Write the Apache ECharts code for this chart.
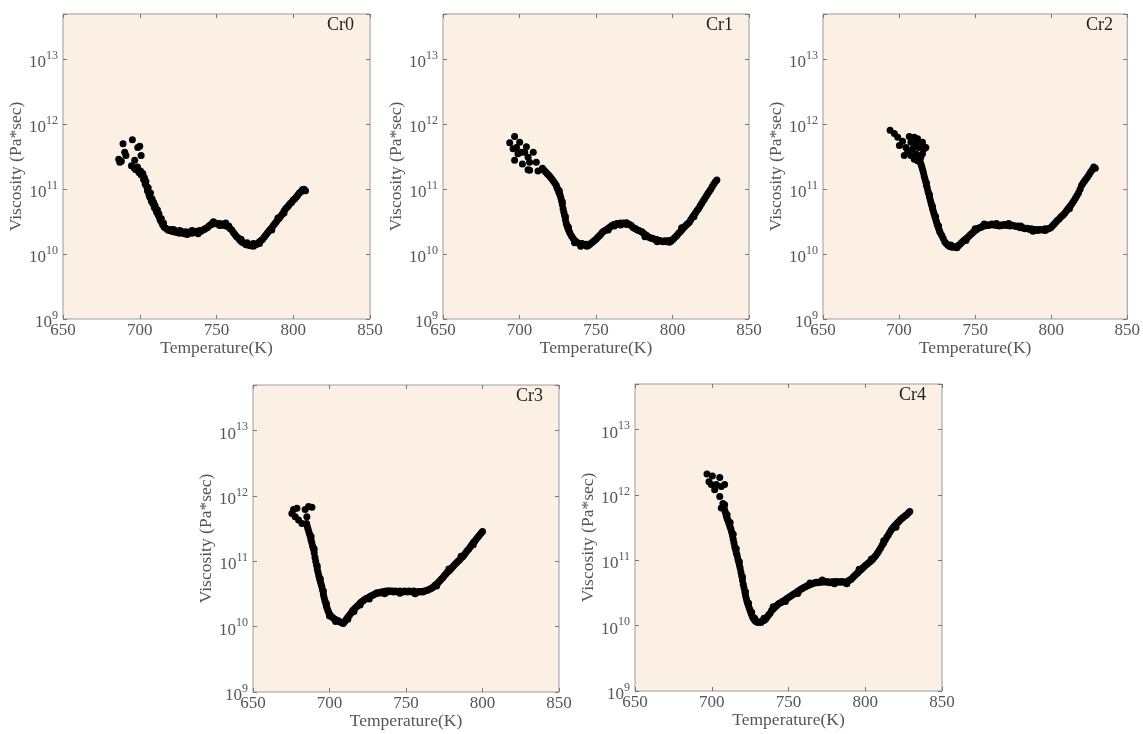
<!DOCTYPE html>
<html>
<head>
<meta charset="utf-8">
<title>Viscosity vs temperature</title>
<script src="https://cdn.jsdelivr.net/npm/echarts@6/dist/echarts.min.js"></script>
<style>
  html, body { margin: 0; padding: 0; background: #fff; }
  #main { width: 1143px; height: 734px; }
</style>
</head>
<body>
<div id="main"></div>
<script>
// panel names
var panelNames = ['Cr0', 'Cr1', 'Cr2', 'Cr3', 'Cr4'];
// x ticks (K)
var tempTicks = [650, 700, 750, 800, 850];
// y range (Pa*sec)
var viscRange = [1e9, 5e13];

// [temperature K, viscosity Pa*sec]
var cr0 = [
  [686.3,2.9e11],[687,2.6e11],[688,2.7e11],[689.1,5.0e11],[690.2,3.7e11],[691,3.3e11],[694.6,2.3e11],
  [695.2,5.8e11],[696.7,2.8e11],[698.7,4.4e11],[700,4.6e11],[700.9,3.3e11],
  [696.5,2.1e11],[697.5,2.0e11],[698.5,2.2e11],[699.5,1.8e11],[700.5,1.9e11],[701,1.66e11],[702,1.74e11],
  [702.5,1.41e11],[703,1.51e11],[703.5,1.2e11],[704,1.32e11],[704.5,1.1e11],[705,9.5e10],[705.5,1.05e11],
  [706,8.3e10],[706.5,7.6e10],[707,8.7e10],[707.5,6.6e10],[708,7.1e10],[708.5,6.0e10],[709,6.3e10],
  [709.5,5.2e10],[710,5.6e10],[710.5,4.8e10],[711,4.4e10],[711.5,4.8e10],[712,4.0e10],[712.5,4.2e10],
  [713,3.55e10],[713.5,3.3e10],[714,3.55e10],[714.5,3.0e10],[715,2.8e10],[715.5,3.0e10],[716,2.6e10],
  [717,2.5e10],[718,2.4e10],[719,2.3e10],[720,2.4e10],[721,2.25e10],[722,2.2e10],[723,2.3e10],[724,2.15e10],
  [725,2.25e10],[726,2.1e10],[727,2.25e10],[728,2.15e10],[729,2.05e10],[730,2.2e10],[731,2.0e10],[732,2.15e10],
  [733,2.2e10],[734,2.1e10],[735,2.25e10],[736,2.15e10],[737,2.25e10],[738,2.2e10],[739,2.3e10],[740,2.25e10],
  [741,2.35e10],[742,2.4e10],[743,2.5e10],[744,2.55e10],[745,2.7e10],[746,2.8e10],[747,2.95e10],[748,2.9e10],
  [749,3.0e10],[750,2.95e10],[751,2.9e10],[752,2.95e10],[753,2.8e10],[754,2.9e10],[755,2.75e10],[756,2.8e10],
  [757,2.65e10],[758,2.7e10],[759,2.45e10],[760,2.35e10],[761,2.15e10],[762,2.0e10],[763,1.86e10],[764,1.78e10],
  [765,1.66e10],[766,1.58e10],[767,1.51e10],[768,1.48e10],[769,1.41e10],[770,1.38e10],[771,1.41e10],[772,1.35e10],
  [773,1.38e10],[774,1.32e10],[775,1.38e10],[776,1.41e10],[777,1.48e10],[778,1.55e10],[779,1.62e10],[780,1.7e10],
  [781,1.82e10],[782,1.95e10],[783,2.1e10],[784,2.25e10],[785,2.4e10],[786,2.55e10],[787,2.75e10],[788,2.95e10],
  [789,3.15e10],[790,3.4e10],[791,3.6e10],[792,3.9e10],[793,4.2e10],[794,4.6e10],[795,5.0e10],[796,5.25e10],
  [797,5.6e10],[798,6.0e10],[799,6.3e10],[800,6.8e10],[801,7.1e10],[802,7.6e10],[803,8.1e10],[804,8.7e10],
  [805,9.1e10],[806,9.8e10],[807,1.0e11],[808,9.5e10],
  [722,2.4e10],[726,2.3e10],[730,2.05e10],[734,2.3e10],[738,2.05e10],[748,3.15e10],[752,2.75e10],[756,3.0e10],
  [766,1.7e10],[770,1.5e10],[774,1.45e10],[778,1.45e10],[786,2.35e10],[790,3.6e10],[794,4.3e10]
];

var cr1 = [
  [693.6,5.2e11],[696.8,6.5e11],[695.8,4.2e11],[698,4.4e11],[700.1,5.3e11],[696.8,2.8e11],[699,3.5e11],
  [701.2,3.7e11],[701.9,2.45e11],[704.5,4.5e11],[705.6,3.1e11],[706.6,2.6e11],[705.6,2.0e11],[709,3.7e11],
  [711,2.6e11],[712.1,1.9e11],[706.6,1.95e11],[703.4,3.7e11],
  [715,2.1e11],[716,1.95e11],[717,1.85e11],[718,1.75e11],[719,1.65e11],[720,1.55e11],[721,1.45e11],
  [722,1.35e11],[723,1.25e11],[724,1.15e11],[724.5,1.05e11],[725,1.0e11],[725.5,9.3e10],[726,8.7e10],
  [726.5,8.1e10],[727,7.4e10],[727.5,6.6e10],[728,5.8e10],[728.5,5.0e10],[729,4.4e10],[729.5,3.9e10],
  [730,3.4e10],[730.5,3.0e10],[731,2.75e10],[731.5,2.55e10],[732,2.4e10],[732.5,2.25e10],[733,2.1e10],
  [734,1.9e10],[735,1.75e10],[736,1.62e10],[737,1.55e10],[738,1.5e10],[739,1.45e10],[740,1.42e10],
  [741,1.45e10],[742,1.4e10],[743,1.38e10],[744,1.42e10],[745,1.36e10],[746,1.42e10],[747,1.48e10],
  [748,1.55e10],[749,1.62e10],[750,1.7e10],[751,1.8e10],[752,1.9e10],[753,2.0e10],[754,2.15e10],[755,2.25e10],
  [756,2.3e10],[757,2.4e10],[758,2.5e10],[759,2.6e10],[760,2.7e10],[761,2.8e10],[762,2.85e10],[763,2.9e10],
  [764,2.95e10],[765,2.9e10],[766,3.0e10],[767,2.9e10],[768,3.0e10],[769,2.95e10],[770,3.05e10],[771,2.9e10],
  [772,2.85e10],[773,2.75e10],[774,2.6e10],[775,2.5e10],[776,2.45e10],[777,2.35e10],[778,2.3e10],[779,2.25e10],
  [780,2.2e10],[781,2.1e10],[782,2.0e10],[783,1.95e10],[784,1.85e10],[785,1.8e10],[786,1.75e10],[787,1.75e10],
  [788,1.7e10],[789,1.68e10],[790,1.66e10],[791,1.62e10],[792,1.6e10],[793,1.58e10],[794,1.55e10],[795,1.6e10],
  [796,1.55e10],[797,1.6e10],[798,1.62e10],[799,1.58e10],[800,1.66e10],[801,1.75e10],[802,1.85e10],[803,1.95e10],
  [804,2.1e10],[805,2.2e10],[806,2.35e10],[807,2.5e10],[808,2.65e10],[809,2.8e10],[810,2.95e10],[811,3.1e10],
  [812,3.4e10],[813,3.7e10],[814,4.0e10],[815,4.3e10],[816,4.7e10],[817,5.0e10],[818,5.5e10],[819,6.0e10],
  [820,6.6e10],[821,7.1e10],[822,7.8e10],[823,8.5e10],[824,9.2e10],[825,1.0e11],[826,1.1e11],[827,1.2e11],
  [828,1.3e11],[829,1.38e11],
  [726,9.5e10],[728,6.4e10],[730,3.8e10],[732,2.6e10],[736,1.5e10],[740,1.32e10],[744,1.32e10],[758,2.35e10],
  [762,2.7e10],[766,2.8e10],[770,2.85e10],[782,1.85e10],[790,1.55e10],[798,1.52e10],[806,2.55e10],[814,3.75e10]
];

var cr2 = [
  [694.1,8.1e11],[696.9,7.2e11],[699.1,6.3e11],[700.2,4.7e11],[702.3,5.5e11],[704.5,4.4e11],[703.4,3.3e11],
  [706.7,6.5e11],[707.8,5.3e11],[708.9,4.2e11],[705.6,3.7e11],[710,6.3e11],[711.1,5.0e11],[712.2,6.0e11],
  [713.2,4.4e11],[715.4,5.3e11],[716.5,4.2e11],[717.6,4.4e11],[715.4,3.5e11],[714.3,3.1e11],[711.1,3.5e11],
  [710,2.9e11],[712.2,2.75e11],[707.8,3.3e11],
  [714,2.6e11],[714.5,2.4e11],[715,2.2e11],[715.5,2.0e11],[716,1.8e11],[716.5,1.6e11],[717,1.45e11],
  [717.5,1.3e11],[718,1.15e11],[718.5,1.05e11],[719,9.3e10],[719.5,8.5e10],[720,7.6e10],[720.5,6.9e10],
  [721,6.2e10],[721.5,5.6e10],[722,5.0e10],[722.5,4.6e10],[723,4.2e10],[723.5,3.8e10],[724,3.5e10],
  [724.5,3.2e10],[725,2.9e10],[725.5,2.7e10],[726,2.5e10],[726.5,2.3e10],[727,2.15e10],[728,1.95e10],
  [729,1.75e10],[730,1.55e10],[731,1.45e10],[732,1.38e10],[733,1.32e10],[734,1.3e10],[735,1.28e10],
  [736,1.3e10],[737,1.27e10],[738,1.32e10],[739,1.35e10],[740,1.42e10],[741,1.5e10],[742,1.58e10],
  [743,1.65e10],[744,1.72e10],[745,1.8e10],[746,1.9e10],[747,2.0e10],[748,2.1e10],[749,2.2e10],[750,2.3e10],
  [751,2.4e10],[752,2.5e10],[753,2.55e10],[754,2.6e10],[755,2.7e10],[756,2.7e10],[757,2.75e10],[758,2.8e10],
  [759,2.75e10],[760,2.85e10],[761,2.9e10],[762,2.8e10],[763,2.85e10],[764,2.75e10],[765,2.8e10],[766,2.7e10],
  [767,2.8e10],[768,2.75e10],[769,2.85e10],[770,2.8e10],[771,2.75e10],[772,2.8e10],[773,2.7e10],[774,2.8e10],
  [775,2.75e10],[776,2.7e10],[777,2.65e10],[778,2.7e10],[779,2.6e10],[780,2.55e10],[781,2.6e10],[782,2.5e10],
  [783,2.45e10],[784,2.5e10],[785,2.45e10],[786,2.4e10],[787,2.45e10],[788,2.4e10],[789,2.35e10],[790,2.4e10],
  [791,2.3e10],[792,2.4e10],[793,2.35e10],[794,2.4e10],[795,2.35e10],[796,2.45e10],[797,2.4e10],[798,2.45e10],
  [799,2.5e10],[800,2.6e10],[801,2.75e10],[802,2.9e10],[803,3.1e10],[804,3.3e10],[805,3.45e10],[806,3.65e10],
  [807,3.85e10],[808,4.05e10],[809,4.3e10],[810,4.6e10],[811,5.0e10],[812,5.3e10],[813,5.7e10],[814,6.2e10],
  [815,6.7e10],[816,7.3e10],[817,8.0e10],[818,8.8e10],[819,1.0e11],[820,1.15e11],[821,1.25e11],[822,1.35e11],
  [823,1.45e11],[824,1.55e11],[825,1.7e11],[826,1.85e11],[827,2.0e11],[828,2.2e11],[829,2.1e11],
  [718,1.25e11],[720,8.2e10],[722,5.4e10],[724,3.8e10],[726,2.7e10],[734,1.38e10],[738,1.25e10],[744,1.62e10],
  [750,2.45e10],[756,2.9e10],[764,2.95e10],[772,2.95e10],[780,2.7e10],[788,2.25e10],[796,2.3e10],[812,5.0e10]
];

var cr3 = [
  [676.5,6.2e11],[675.4,5.4e11],[678.7,6.5e11],[677.6,4.8e11],[679.8,4.3e11],[684.1,6.2e11],[686.3,6.9e11],
  [688.5,6.7e11],[685.2,4.8e11],[682,3.8e11],
  [685,3.8e11],[685.5,3.4e11],[686,3.1e11],[686.5,2.8e11],[687,2.6e11],[687.5,2.35e11],[688,2.1e11],
  [688.5,1.9e11],[689,1.7e11],[689.5,1.55e11],[690,1.35e11],[690.5,1.15e11],[691,1.0e11],[691.5,8.8e10],
  [692,7.6e10],[692.5,6.8e10],[693,6.0e10],[693.5,5.4e10],[694,4.9e10],[694.5,4.5e10],[695,4.1e10],
  [695.5,3.6e10],[696,3.1e10],[696.5,2.8e10],[697,2.5e10],[697.5,2.3e10],[698,2.05e10],[698.5,1.9e10],
  [699,1.75e10],[699.5,1.65e10],[700,1.55e10],[701,1.45e10],[702,1.38e10],[703,1.32e10],[704,1.28e10],
  [705,1.25e10],[706,1.22e10],[707,1.18e10],[708,1.15e10],[709,1.12e10],[710,1.2e10],[711,1.3e10],[712,1.4e10],
  [713,1.5e10],[714,1.6e10],[715,1.75e10],[716,1.85e10],[717,1.95e10],[718,2.05e10],[719,2.15e10],[720,2.3e10],
  [721,2.4e10],[722,2.5e10],[723,2.6e10],[724,2.7e10],[725,2.75e10],[726,2.85e10],[727,2.95e10],[728,3.0e10],
  [729,3.1e10],[730,3.2e10],[731,3.3e10],[732,3.25e10],[733,3.35e10],[734,3.3e10],[735,3.45e10],[736,3.4e10],
  [737,3.5e10],[738,3.4e10],[739,3.55e10],[740,3.45e10],[741,3.5e10],[742,3.4e10],[743,3.5e10],[744,3.45e10],
  [745,3.4e10],[746,3.5e10],[747,3.45e10],[748,3.4e10],[749,3.5e10],[750,3.45e10],[751,3.4e10],[752,3.5e10],
  [753,3.45e10],[754,3.4e10],[755,3.5e10],[756,3.4e10],[757,3.35e10],[758,3.45e10],[759,3.4e10],[760,3.45e10],
  [761,3.4e10],[762,3.5e10],[763,3.55e10],[764,3.6e10],[765,3.7e10],[766,3.8e10],[767,3.9e10],[768,4.1e10],
  [769,4.3e10],[770,4.5e10],[771,4.7e10],[772,5.0e10],[773,5.3e10],[774,5.6e10],[775,6.0e10],[776,6.4e10],
  [777,6.8e10],[778,7.1e10],[779,7.5e10],[780,8.0e10],[781,8.5e10],[782,9.0e10],[783,9.5e10],[784,1.0e11],
  [785,1.05e11],[786,1.12e11],[787,1.18e11],[788,1.25e11],[789,1.35e11],[790,1.45e11],[791,1.55e11],
  [792,1.65e11],[793,1.8e11],[794,1.95e11],[795,2.05e11],[796,2.2e11],[797,2.35e11],[798,2.5e11],[799,2.7e11],
  [800,2.85e11],
  [688,2.4e11],[690,1.55e11],[692,8.5e10],[694,5.4e10],[696,3.5e10],[698,2.25e10],[700,1.45e10],[704,1.2e10],
  [712,1.3e10],[716,1.7e10],[720,2.15e10],[726,2.65e10],[736,3.2e10],[746,3.25e10],[756,3.2e10],[770,4.2e10],
  [778,7.6e10],[786,1.2e11],[794,1.8e11]
];

var cr4 = [
  [696.9,2.1e12],[698.2,1.6e12],[700.4,1.95e12],[699.7,1.45e12],[701.9,1.2e12],[703,1.45e12],[705.2,1.85e12],
  [706.2,1.35e12],[708.4,1.45e12],[705.2,9.5e11],[707.3,7.4e11],[706.2,6.3e11],[708.4,7.1e11],
  [708,6.3e11],[708.5,5.8e11],[709,5.3e11],[709.5,4.8e11],[710,4.4e11],[710.5,4.1e11],[711,3.8e11],
  [711.5,3.5e11],[712,3.25e11],[712.5,3.0e11],[713,2.7e11],[713.5,2.4e11],[714,2.1e11],[714.5,1.85e11],
  [715,1.6e11],[715.5,1.45e11],[716,1.3e11],[716.5,1.2e11],[717,1.05e11],[717.5,9.5e10],[718,8.5e10],
  [718.5,7.6e10],[719,6.6e10],[719.5,5.8e10],[720,5.0e10],[720.5,4.3e10],[721,3.8e10],[721.5,3.3e10],
  [722,2.9e10],[722.5,2.6e10],[723,2.35e10],[723.5,2.15e10],[724,2.0e10],[724.5,1.85e10],[725,1.7e10],
  [725.5,1.58e10],[726,1.48e10],[726.5,1.38e10],[727,1.3e10],[728,1.2e10],[729,1.15e10],[730,1.12e10],
  [731,1.15e10],[732,1.12e10],[733,1.18e10],[734,1.2e10],[735,1.25e10],[736,1.35e10],[737,1.45e10],
  [738,1.55e10],[739,1.7e10],[740,1.8e10],[741,1.9e10],[742,2.0e10],[743,2.1e10],[744,2.2e10],[745,2.25e10],
  [746,2.35e10],[747,2.4e10],[748,2.5e10],[749,2.6e10],[750,2.7e10],[751,2.8e10],[752,2.9e10],[753,3.0e10],
  [754,3.1e10],[755,3.2e10],[756,3.35e10],[757,3.45e10],[758,3.6e10],[759,3.7e10],[760,3.85e10],[761,3.95e10],
  [762,4.05e10],[763,4.15e10],[764,4.25e10],[765,4.35e10],[766,4.45e10],[767,4.5e10],[768,4.6e10],[769,4.55e10],
  [770,4.65e10],[771,4.6e10],[772,4.7e10],[773,4.65e10],[774,4.75e10],[775,4.6e10],[776,4.7e10],[777,4.55e10],
  [778,4.65e10],[779,4.7e10],[780,4.6e10],[781,4.75e10],[782,4.65e10],[783,4.7e10],[784,4.6e10],[785,4.75e10],
  [786,4.65e10],[787,4.55e10],[788,4.7e10],[789,4.85e10],[790,5.0e10],[791,5.2e10],[792,5.5e10],[793,5.8e10],
  [794,6.1e10],[795,6.4e10],[796,6.8e10],[797,7.1e10],[798,7.5e10],[799,7.9e10],[800,8.3e10],[801,8.7e10],
  [802,9.1e10],[803,9.5e10],[804,9.9e10],[805,1.05e11],[806,1.12e11],[807,1.2e11],[808,1.3e11],[809,1.42e11],
  [810,1.55e11],[811,1.7e11],[812,1.85e11],[813,2.05e11],[814,2.25e11],[815,2.45e11],[816,2.7e11],[817,2.95e11],
  [818,3.15e11],[819,3.35e11],[820,3.55e11],[821,3.75e11],[822,3.95e11],[823,4.2e11],[824,4.4e11],[825,4.6e11],
  [826,4.8e11],[827,5.0e11],[828,5.3e11],[829,5.6e11],
  [710,5.0e11],[712,3.8e11],[714,2.5e11],[716,1.5e11],[718,9.5e10],[720,5.6e10],[722,3.3e10],[724,2.2e10],
  [726,1.6e10],[728,1.3e10],[734,1.3e10],[740,1.95e10],[748,2.35e10],[756,3.1e10],[764,4.5e10],[772,5.0e10],
  [780,4.4e10],[788,4.4e10],[796,7.3e10],[804,1.05e11],[812,2.0e11],[820,3.2e11]
];

var panelData = [cr0, cr1, cr2, cr3, cr4];

(function(){
  var myChart = echarts.init(document.getElementById('main'));
  var serif = '"Liberation Serif", "DejaVu Serif", serif';
  var labelGray = '#555';

  // plot boxes in pixels
  var boxes = [
    {left: 63, top: 14, width: 307, height: 305},
    {left: 443, top: 14, width: 306, height: 305},
    {left: 823, top: 14, width: 306, height: 305},
    {left: 253, top: 385, width: 306, height: 307},
    {left: 635, top: 384, width: 307, height: 307}
  ];

  var grids = [], xAxes = [], yAxes = [], series = [], titles = [];

  boxes.forEach(function(b, i){
    grids.push({
      left: b.left, top: b.top, width: b.width, height: b.height,
      show: true, backgroundColor: '#fcf0e5', borderColor: '#9a9a9a', borderWidth: 1,
      containLabel: false
    });
    // bottom axis
    xAxes.push({
      type: 'value', gridIndex: i, min: tempTicks[0], max: tempTicks[tempTicks.length - 1], interval: 50,
      position: 'bottom',
      name: 'Temperature(K)', nameLocation: 'middle', nameGap: 20,
      nameTextStyle: {fontFamily: serif, fontSize: 17.5, color: labelGray},
      axisLine: {show: false},
      axisTick: {inside: true, length: 4, lineStyle: {color: '#777'}},
      axisLabel: {fontFamily: serif, fontSize: 17, color: labelGray, margin: 3},
      splitLine: {show: false}
    });
    // mirrored top ticks
    xAxes.push({
      type: 'value', gridIndex: i, min: tempTicks[0], max: tempTicks[tempTicks.length - 1], interval: 50,
      position: 'top',
      axisLine: {show: false},
      axisTick: {inside: true, length: 4, lineStyle: {color: '#777'}},
      axisLabel: {show: false},
      splitLine: {show: false}
    });
    yAxes.push({
      type: 'log', gridIndex: i, min: viscRange[0], max: viscRange[1], logBase: 10,
      position: 'left',
      name: 'Viscosity (Pa*sec)', nameLocation: 'middle', nameGap: 38, nameRotate: 90,
      nameTextStyle: {fontFamily: serif, fontSize: 17.5, color: labelGray},
      axisLine: {show: false},
      axisTick: {inside: true, length: 4, lineStyle: {color: '#777'}},
      axisLabel: {
        margin: 5,
        formatter: function(v){
          var e = Math.log10(v);
          if (Math.abs(e - Math.round(e)) > 1e-6) return '';
          return '{b|10}{s|' + Math.round(e) + '}';
        },
        rich: {
          b: {fontFamily: serif, fontSize: 17, color: labelGray, padding: [7, 0, 0, 0]},
          s: {fontFamily: serif, fontSize: 12, color: labelGray, padding: [0, 0, 7, 0]}
        }
      },
      splitLine: {show: false}
    });
    // mirrored right ticks
    yAxes.push({
      type: 'log', gridIndex: i, min: viscRange[0], max: viscRange[1], logBase: 10,
      position: 'right',
      axisLine: {show: false},
      axisTick: {inside: true, length: 4, lineStyle: {color: '#777'}},
      axisLabel: {show: false},
      splitLine: {show: false}
    });
    series.push({
      type: 'scatter',
      xAxisIndex: i * 2, yAxisIndex: i * 2,
      data: panelData[i],
      symbol: 'circle', symbolSize: 7,
      itemStyle: {color: '#000', opacity: 1},
      silent: true
    });
    titles.push({
      text: panelNames[i],
      left: b.left + b.width - 43, top: b.top + 2,
      padding: 0,
      textStyle: {fontFamily: serif, fontSize: 18, fontWeight: 'normal', color: '#222'}
    });
  });

  var option = {
    backgroundColor: '#fff',
    animation: false,
    title: titles,
    grid: grids,
    xAxis: xAxes,
    yAxis: yAxes,
    series: series
  };
  myChart.setOption(option);
})();
</script>
</body>
</html>
